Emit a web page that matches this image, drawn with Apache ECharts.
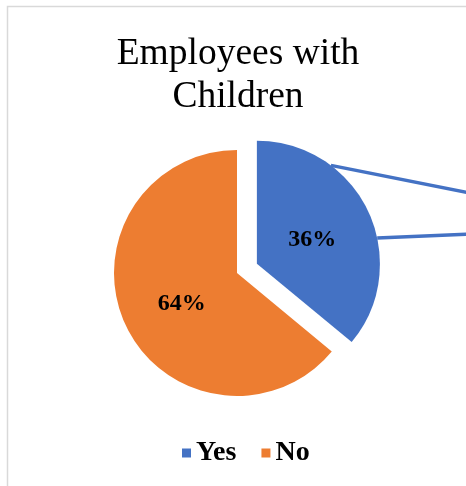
<!DOCTYPE html>
<html>
<head>
<meta charset="utf-8">
<script src="https://cdn.jsdelivr.net/npm/echarts@6/dist/echarts.min.js"></script>
<style>
  html, body { margin: 0; padding: 0; background: #fff; }
  #chart { width: 466px; height: 486px; }
</style>
</head>
<body>
<div id="chart"></div>
<script>
// Share of employees who have children
const categories = ['Yes', 'No'];
const shares = [36, 64];
const colors = ['#4472c4', '#ed7d31'];

const FONT = '"Liberation Serif", "Times New Roman", serif';
const cx = 237, cy = 273, radius = 123, explode = 22;
const labelOffsets = [[-3, 3.5], [3, 3.5]];

// Offset of the pulled-out "Yes" slice, along its middle angle (clockwise from 12 o'clock)
const total = shares.reduce((a, b) => a + b, 0);
const yesMid = (shares[0] / total) * Math.PI; // half of the slice's sweep
const ox = explode * Math.sin(yesMid), oy = -explode * Math.cos(yesMid);
function rimPoint(angleDeg) {
  const a = angleDeg * Math.PI / 180;
  return [cx + ox + radius * Math.sin(a), cy + oy - radius * Math.cos(a)];
}
const p1 = rimPoint(37), p2 = rimPoint(78);

const chart = echarts.init(document.getElementById('chart'), null, { renderer: 'canvas' });
chart.setOption({
  animation: false,
  backgroundColor: '#fff',
  title: {
    text: 'Employees with\nChildren',
    left: 233, top: 28, textAlign: 'center',
    textStyle: { fontFamily: FONT, fontSize: 37.5, fontWeight: 'normal', color: '#000', lineHeight: 43 }
  },
  legend: {
    data: categories,
    left: 177, top: 434,
    icon: 'rect', itemWidth: 9, itemHeight: 9, itemGap: 25,
    textStyle: { fontFamily: FONT, fontSize: 28, fontWeight: 'bold', color: '#000', padding: [0, 0, 0, 0] },
    selectedMode: false
  },
  graphic: [
    { type: 'rect', shape: { x: 7.5, y: 6.5, width: 600, height: 600 },
      style: { fill: 'none', stroke: '#d9d9d9', lineWidth: 1.5 }, z: 0 },
    { type: 'line', shape: { x1: p1[0], y1: p1[1], x2: 470, y2: 193 },
      style: { stroke: colors[0], lineWidth: 3.5 }, z: 10 },
    { type: 'line', shape: { x1: p2[0], y1: p2[1], x2: 470, y2: 234 },
      style: { stroke: colors[0], lineWidth: 3.5 }, z: 10 }
  ],
  series: [{
    type: 'pie',
    center: [cx, cy],
    radius: [0, radius],
    startAngle: 90,
    clockwise: true,
    selectedMode: 'single',
    selectedOffset: explode,
    emphasis: { disabled: true },
    label: {
      show: true, position: 'inside',
      formatter: '{c}%',
      fontFamily: FONT, fontSize: 24, fontWeight: 'bold', color: '#000'
    },
    labelLine: { show: false },
    itemStyle: { borderWidth: 0 },
    data: categories.map((name, i) => ({
      name, value: shares[i], selected: i === 0,
      itemStyle: { color: colors[i] },
      label: { offset: labelOffsets[i] },
      select: { label: { offset: labelOffsets[i] }, itemStyle: { color: colors[i] } }
    }))
  }]
});
</script>
</body>
</html>
